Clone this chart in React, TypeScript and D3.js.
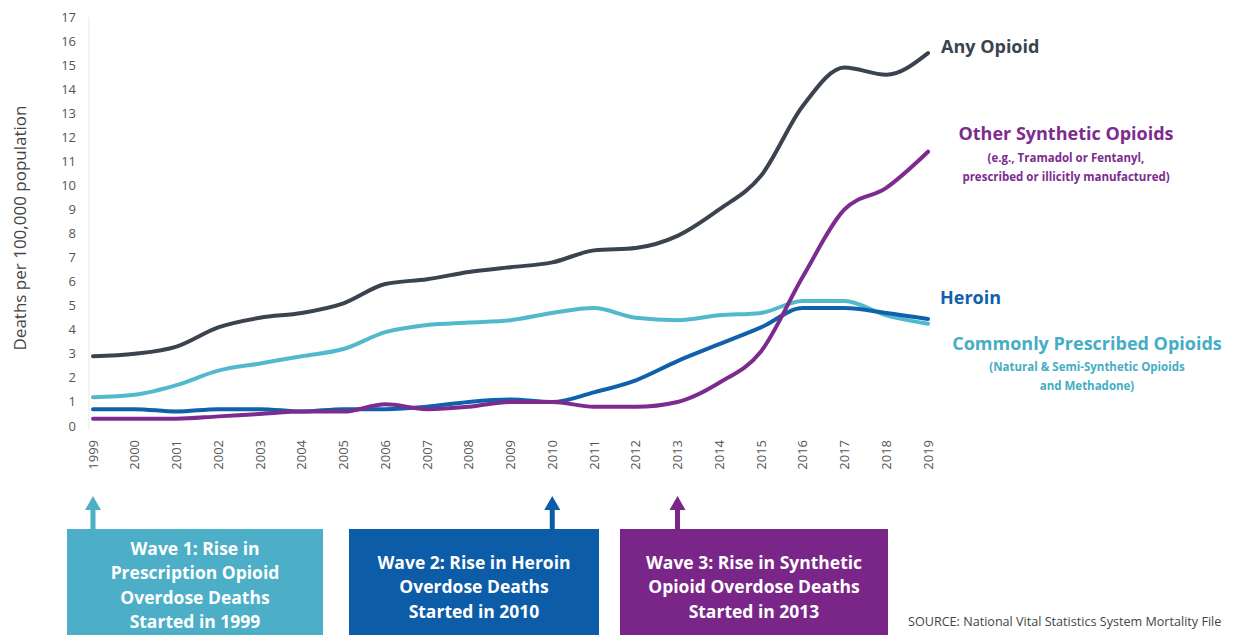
import * as d3 from "d3";

const years = [1999, 2000, 2001, 2002, 2003, 2004, 2005, 2006, 2007, 2008, 2009, 2010, 2011, 2012, 2013, 2014, 2015, 2016, 2017, 2018, 2019];
const anyOpioid = [2.9, 3.0, 3.3, 4.1, 4.5, 4.7, 5.1, 5.9, 6.1, 6.4, 6.6, 6.8, 7.3, 7.4, 7.9, 9.0, 10.4, 13.3, 14.9, 14.6, 15.5];
const otherSynthetic = [0.3, 0.3, 0.3, 0.4, 0.5, 0.6, 0.6, 0.9, 0.7, 0.8, 1.0, 1.0, 0.8, 0.8, 1.0, 1.8, 3.1, 6.2, 9.0, 9.9, 11.4];
const heroin = [0.7, 0.7, 0.6, 0.7, 0.7, 0.6, 0.7, 0.7, 0.8, 1.0, 1.1, 1.0, 1.4, 1.9, 2.7, 3.4, 4.1, 4.9, 4.9, 4.7, 4.45];
const prescribed = [1.2, 1.3, 1.7, 2.3, 2.6, 2.9, 3.2, 3.9, 4.2, 4.3, 4.4, 4.7, 4.9, 4.5, 4.4, 4.6, 4.7, 5.2, 5.2, 4.6, 4.25];
const yTicks = d3.range(0, 18);

const series = [
  { name: "prescribed", values: prescribed, color: "#52b9cd" },
  { name: "heroin", values: heroin, color: "#1061ab" },
  { name: "synthetic", values: otherSynthetic, color: "#7d2b8e" },
  { name: "any", values: anyOpioid, color: "#3a434e" },
];

const waves = [
  { year: 1999, lines: ["Wave 1: Rise in", "Prescription Opioid", "Overdose Deaths", "Started in 1999"], color: "#4cafc7", x0: 67, x1: 323 },
  { year: 2010, lines: ["Wave 2: Rise in Heroin", "Overdose Deaths", "Started in 2010"], color: "#0d5ca8", x0: 349, x1: 599 },
  { year: 2013, lines: ["Wave 3: Rise in Synthetic", "Opioid Overdose Deaths", "Started in 2013"], color: "#7a2688", x0: 620, x1: 888 },
];

const font = "'Open Sans', Lato, sans-serif";

export default function App() {
  const width = 1239;
  const height = 635;
  const x = d3.scaleLinear().domain([1999, 2019]).range([93, 928]);
  const y = d3.scaleLinear().domain([0, 17]).range([426, 17]);

  const line = d3
    .line<number>()
    .x((_, i) => x(years[i]))
    .y((d) => y(d))
    .curve(d3.curveMonotoneX);

  return (
    <svg
      width={width}
      height={height}
      style={{ position: "absolute", left: 0, top: 0, background: "#fff" }}
      fontFamily={font}
    >
      <line x1={89} x2={89} y1={17} y2={430} stroke="#e8e8e8" strokeWidth={1} />

      {yTicks.map((t) => (
        <text key={t} x={76} y={y(t)} dy="0.35em" textAnchor="end" fontSize={13} fill="#555">
          {t}
        </text>
      ))}

      {years.map((yr) => (
        <text
          key={yr}
          transform={`translate(${x(yr)},440) rotate(-90)`}
          dy="0.35em"
          textAnchor="end"
          fontSize={13}
          fill="#555"
        >
          {yr}
        </text>
      ))}

      <text
        transform={`translate(20,228) rotate(-90)`}
        dy="0.35em"
        textAnchor="middle"
        fontSize={17}
        fill="#444"
      >
        Deaths per 100,000 population
      </text>

      {series.map((s) => (
        <path
          key={s.name}
          d={line(s.values) || ""}
          fill="none"
          stroke={s.color}
          strokeWidth={4}
          strokeLinejoin="round"
          strokeLinecap="round"
        />
      ))}

      <text x={941} y={53} fontSize={18} fontWeight="bold" fill="#3a434e">Any Opioid</text>

      <g fill="#7d2b8e" textAnchor="middle" fontWeight="bold">
        <text x={1066} y={140} fontSize={18}>Other Synthetic Opioids</text>
        <text x={1066} y={162} fontSize={11.5}>(e.g., Tramadol or Fentanyl,</text>
        <text x={1066} y={181} fontSize={11.5}>prescribed or illicitly manufactured)</text>
      </g>

      <text x={940} y={304} fontSize={18} fontWeight="bold" fill="#1061ab">Heroin</text>

      <g fill="#45adc4" textAnchor="middle" fontWeight="bold">
        <text x={1087} y={350} fontSize={18}>Commonly Prescribed Opioids</text>
        <text x={1087} y={371} fontSize={11.5}>(Natural &amp; Semi-Synthetic Opioids</text>
        <text x={1087} y={390} fontSize={11.5}>and Methadone)</text>
      </g>

      {waves.map((w) => {
        const ax = x(w.year);
        const cx = (w.x0 + w.x1) / 2;
        const n = w.lines.length;
        const startY = n === 4 ? 555 : 569;
        return (
          <g key={w.year}>
            <rect x={ax - 2.5} y={508} width={5} height={23} fill={w.color} />
            <path d={`M${ax - 8},${510} L${ax},${496} L${ax + 8},${510} Z`} fill={w.color} />
            <rect x={w.x0} y={529} width={w.x1 - w.x0} height={110} fill={w.color} />
            {w.lines.map((l, i) => (
              <text
                key={i}
                x={cx}
                y={startY + i * 24.3}
                textAnchor="middle"
                fontSize={17.5}
                fontWeight="bold"
                fill="#fff"
              >
                {l}
              </text>
            ))}
          </g>
        );
      })}

      <text x={908} y={626} fontSize={12.6} fill="#444">
        SOURCE: National Vital Statistics System Mortality File
      </text>
    </svg>
  );
}
